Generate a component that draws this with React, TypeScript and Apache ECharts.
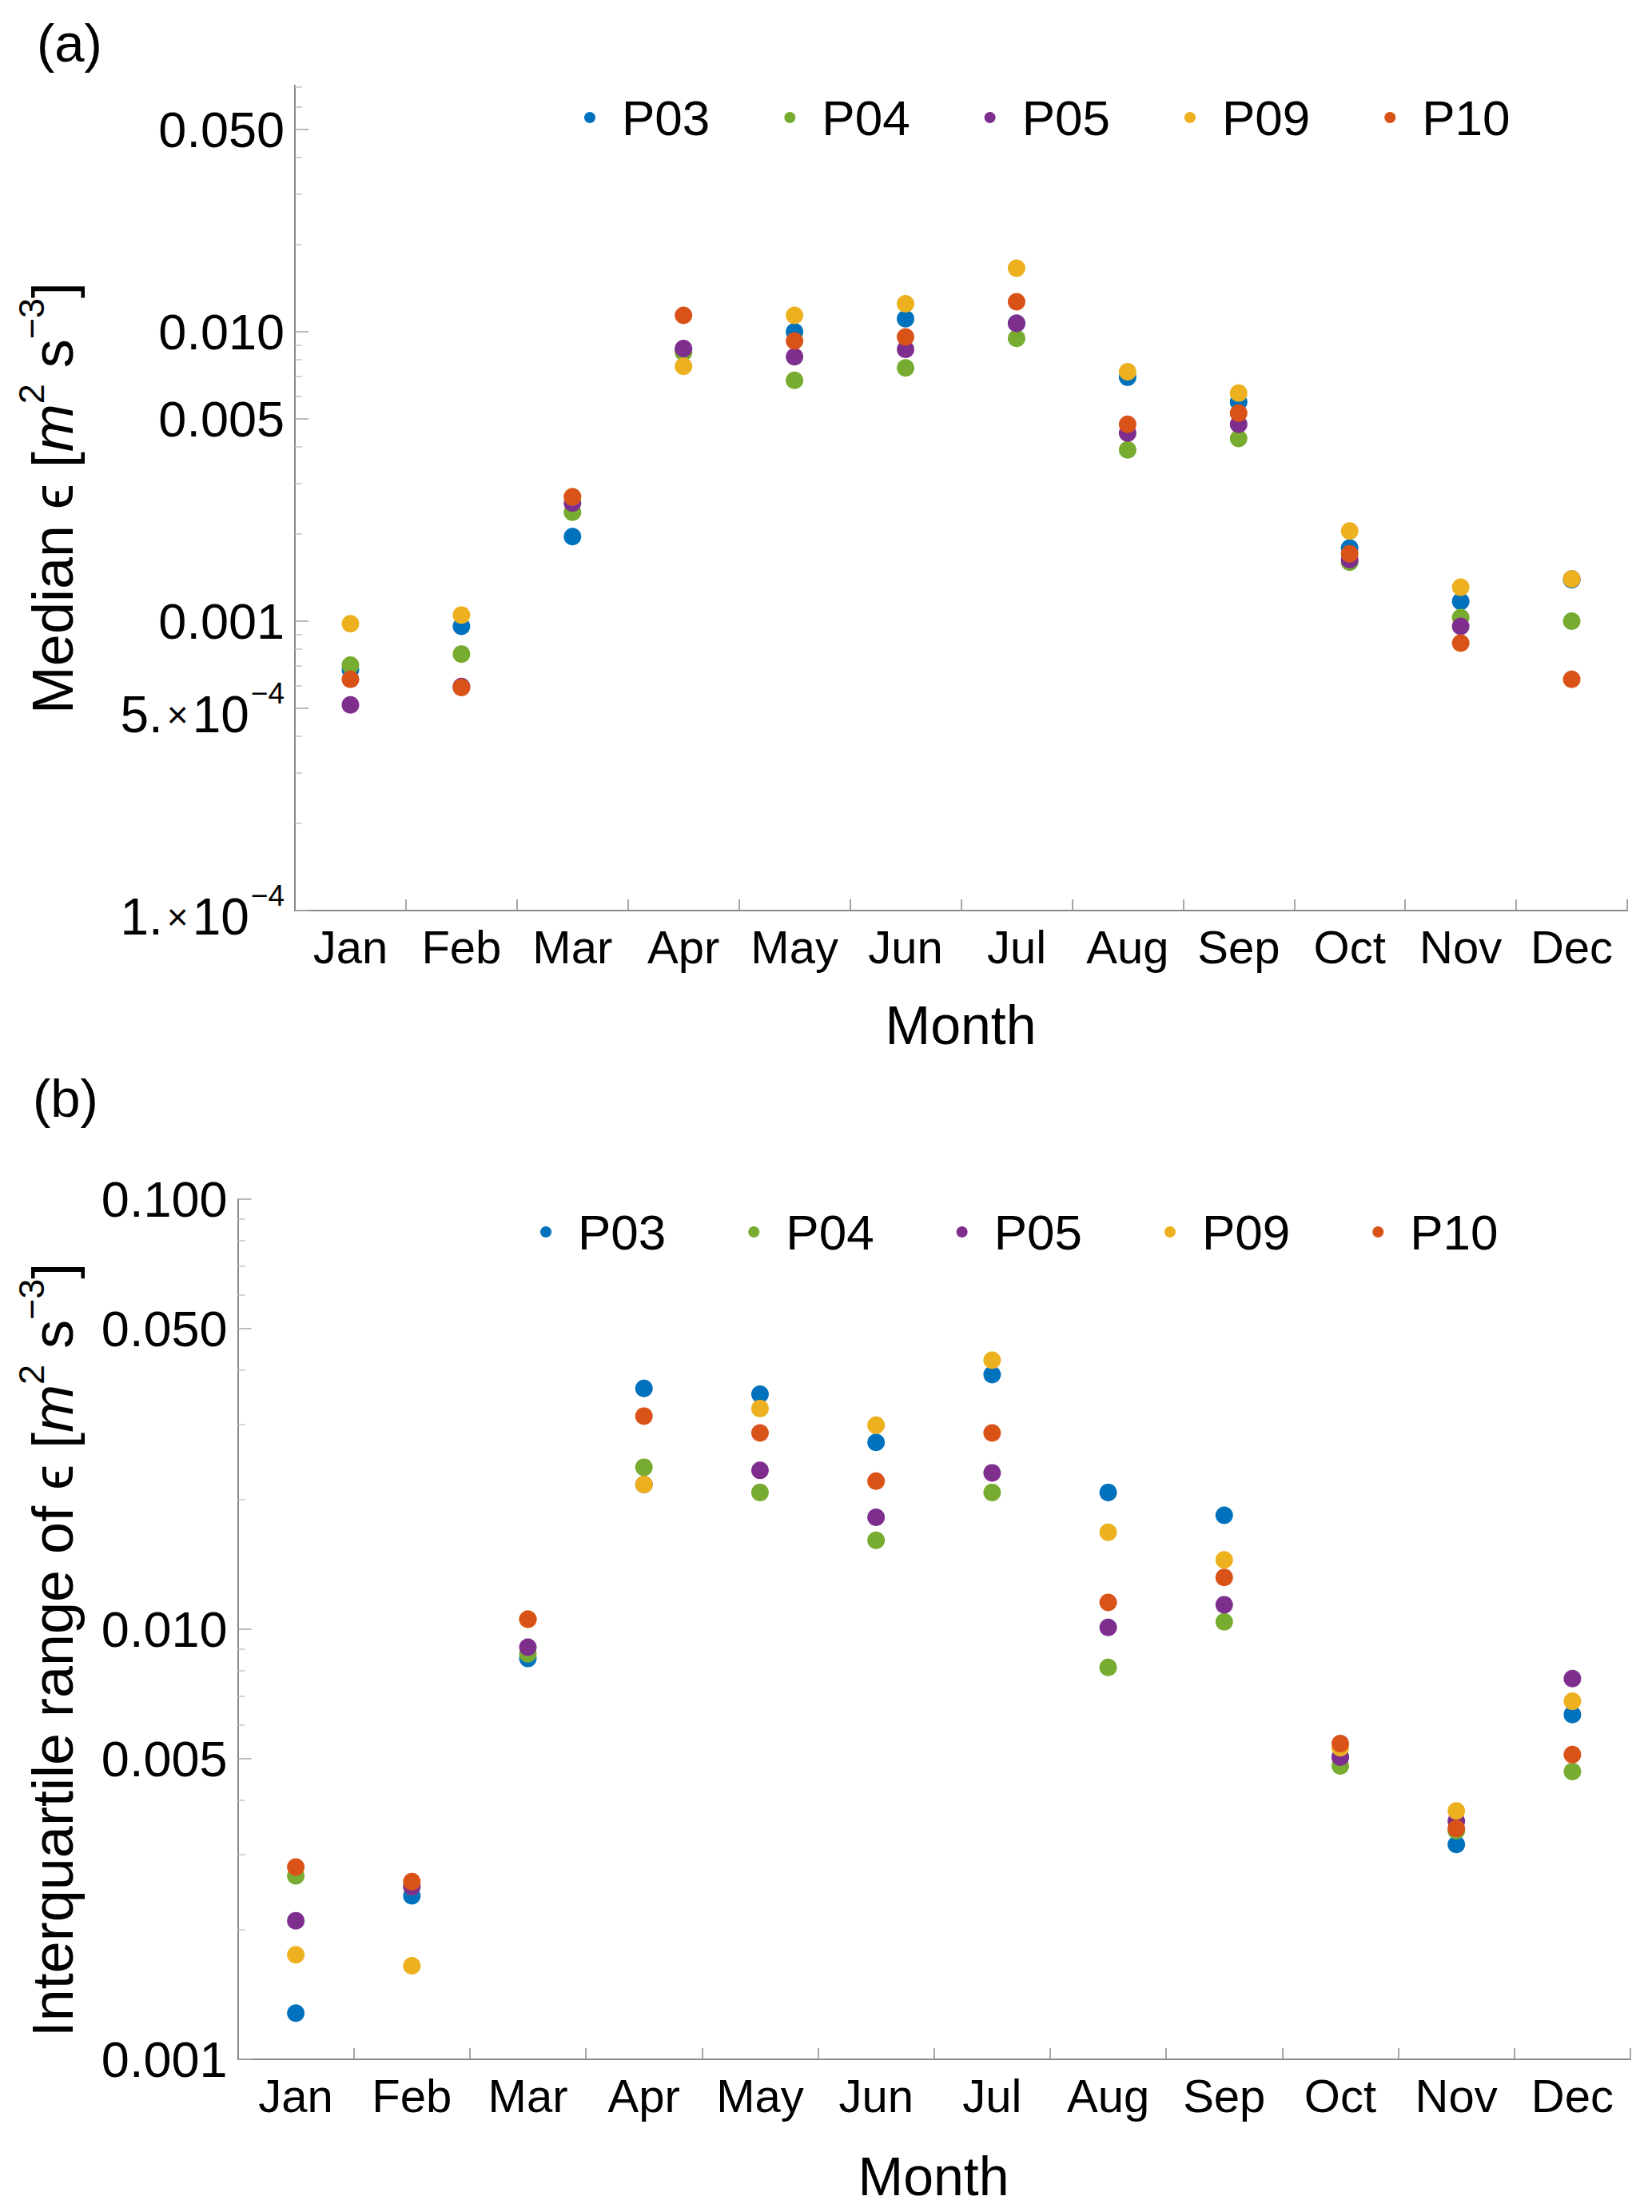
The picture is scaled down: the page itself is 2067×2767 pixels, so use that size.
import React, { useEffect, useRef } from "react";
import * as echarts from "echarts";

const FONT = "'Liberation Sans', Arial, Helvetica, sans-serif";

const months = ["Jan", "Feb", "Mar", "Apr", "May", "Jun", "Jul", "Aug", "Sep", "Oct", "Nov", "Dec"];
const seriesNames = ["P03", "P04", "P05", "P09", "P10"];
const seriesColors = ["#0072BD", "#77AC30", "#7E2F8E", "#EDB120", "#D95319"];

// Panel (a): median epsilon [m^2 s^-3]
const medianP03 = [6.8e-4, 9.6e-4, 1.96e-3, 8.7e-3, 1.0e-2, 1.11e-2, 1.07e-2, 6.97e-3, 5.73e-3, 1.79e-3, 1.17e-3, 1.39e-3];
const medianP04 = [7.05e-4, 7.7e-4, 2.38e-3, 8.5e-3, 6.8e-3, 7.5e-3, 9.5e-3, 3.91e-3, 4.28e-3, 1.6e-3, 1.03e-3, 1.0e-3];
const medianP05 = [5.14e-4, 5.95e-4, 2.56e-3, 8.75e-3, 8.2e-3, 8.7e-3, 1.07e-2, 4.47e-3, 4.79e-3, 1.63e-3, 9.6e-4, 1.4e-3];
const medianP09 = [9.8e-4, 1.05e-3, 2.69e-3, 7.6e-3, 1.14e-2, 1.25e-2, 1.66e-2, 7.28e-3, 6.14e-3, 2.05e-3, 1.31e-3, 1.4e-3];
const medianP10 = [6.3e-4, 5.9e-4, 2.69e-3, 1.14e-2, 9.3e-3, 9.6e-3, 1.27e-2, 4.79e-3, 5.24e-3, 1.71e-3, 8.4e-4, 6.3e-4];

// Panel (b): interquartile range of epsilon [m^2 s^-3]
const iqrP03 = [1.28e-3, 2.4e-3, 8.55e-3, 3.63e-2, 3.52e-2, 2.72e-2, 3.91e-2, 2.08e-2, 1.84e-2, 5.04e-3, 3.16e-3, 6.33e-3];
const iqrP04 = [2.67e-3, 2.52e-3, 8.77e-3, 2.38e-2, 2.08e-2, 1.61e-2, 2.08e-2, 8.15e-3, 1.04e-2, 4.81e-3, 3.4e-3, 4.67e-3];
const iqrP05 = [2.1e-3, 2.52e-3, 9.08e-3, 2.17e-2, 2.34e-2, 1.82e-2, 2.31e-2, 1.01e-2, 1.14e-2, 5.04e-3, 3.58e-3, 7.68e-3];
const iqrP09 = [1.75e-3, 1.65e-3, 1.055e-2, 2.17e-2, 3.26e-2, 2.98e-2, 4.22e-2, 1.68e-2, 1.45e-2, 5.3e-3, 3.78e-3, 6.8e-3];
const iqrP10 = [2.8e-3, 2.59e-3, 1.055e-2, 3.13e-2, 2.86e-2, 2.21e-2, 2.86e-2, 1.154e-2, 1.32e-2, 5.42e-3, 3.44e-3, 5.11e-3];

// Y-axis ranges and ticks
const yMinA = 1e-4;
const yMaxA = 0.071;
const majorTicksA = [1e-4, 5e-4, 0.001, 0.005, 0.01, 0.05];
const majorLabelsA = ["1.×10^-4", "5.×10^-4", "0.001", "0.005", "0.010", "0.050"];
const minorTicksA = [2e-4, 3e-4, 4e-4, 6e-4, 7e-4, 8e-4, 9e-4, 0.002, 0.003, 0.004, 0.006, 0.007, 0.008, 0.009, 0.02, 0.03, 0.04, 0.06, 0.07];

const yMinB = 0.001;
const yMaxB = 0.1;
const majorTicksB = [0.001, 0.005, 0.01, 0.05, 0.1];
const majorLabelsB = ["0.001", "0.005", "0.010", "0.050", "0.100"];
const minorTicksB = [0.002, 0.003, 0.004, 0.006, 0.007, 0.008, 0.009, 0.02, 0.03, 0.04, 0.06, 0.07, 0.08, 0.09];

const AXIS_COLOR = "#8a8a8a";
const MAJOR_TICK_COLOR = "#a6a6a6";
const MINOR_TICK_COLOR = "#c4c4c4";

const TICK_FONT = 63;

const tickRich = {
  m: { fontSize: 64, lineHeight: 64, fontFamily: FONT, color: "#000", padding: [16, 0, 0, 0] },
  x: { fontSize: 46, lineHeight: 64, fontFamily: FONT, color: "#000", padding: [16, 5, 0, 5] },
  s: { fontSize: 37, lineHeight: 37, fontFamily: FONT, color: "#000", padding: [0, 0, 38, 2] },
};

function makeFormatter(values: number[], labels: string[]) {
  return (v: number) => {
    let best = -1;
    let bd = 1e9;
    values.forEach((t, i) => {
      const d = Math.abs(Math.log10(t) - v);
      if (d < bd) {
        bd = d;
        best = i;
      }
    });
    if (best < 0 || bd > 1e-6) return "";
    const s = labels[best];
    const m = s.match(/^(.*)×10\^(.*)$/);
    if (m) return `{m|${m[1]}}{x|×}{m|10}{s|${m[2].replace("-", "−")}}`;
    return s;
  };
}

function buildYAxes(gridIndex: number, min: number, max: number, majors: number[], labels: string[], minors: number[]) {
  const lmin = Math.log10(min);
  const lmax = Math.log10(max);
  return [
    {
      type: "log",
      logBase: 10,
      gridIndex,
      position: "left",
      min,
      max,
      axisLine: { show: true, onZero: false, lineStyle: { color: AXIS_COLOR, width: 2 } },
      axisTick: { show: false },
      axisLabel: { show: false },
      splitLine: { show: false },
      minorTick: { show: false },
      minorSplitLine: { show: false },
    },
    {
      type: "value",
      gridIndex,
      position: "left",
      min: lmin,
      max: lmax,
      axisLine: { show: false },
      axisTick: {
        show: true,
        inside: true,
        length: 17,
        customValues: majors.map((v) => Math.log10(v)),
        lineStyle: { color: MAJOR_TICK_COLOR, width: 1.5 },
      },
      axisLabel: {
        show: true,
        customValues: majors.map((v) => Math.log10(v)),
        formatter: makeFormatter(majors, labels),
        margin: 13,
        fontSize: TICK_FONT,
        fontFamily: FONT,
        color: "#000",
        rich: tickRich,
      },
      splitLine: { show: false },
    },
    {
      type: "value",
      gridIndex,
      position: "left",
      min: lmin,
      max: lmax,
      axisLine: { show: false },
      axisTick: {
        show: true,
        inside: true,
        length: 9,
        customValues: minors.map((v) => Math.log10(v)),
        lineStyle: { color: MINOR_TICK_COLOR, width: 1.5 },
      },
      axisLabel: { show: false },
      splitLine: { show: false },
    },
  ];
}

function buildXAxis(gridIndex: number) {
  return {
    type: "category",
    gridIndex,
    data: months,
    boundaryGap: true,
    axisLine: { show: true, onZero: false, lineStyle: { color: AXIS_COLOR, width: 2 } },
    axisTick: { show: true, inside: true, length: 14, alignWithLabel: false, lineStyle: { color: AXIS_COLOR, width: 1.5 } },
    axisLabel: { interval: 0, fontSize: 58, fontFamily: FONT, color: "#000", margin: 16 },
    splitLine: { show: false },
  };
}

function titleRich(size: number) {
  return {
    t: { fontSize: size, lineHeight: size, fontFamily: FONT, fill: "#000" },
    i: { fontSize: size, lineHeight: size, fontFamily: FONT, fontStyle: "italic", fill: "#000" },
    s: { fontSize: 45, lineHeight: 45, fontFamily: FONT, fill: "#000", padding: [0, 0, 54, 0] },
  };
}

function textEl(text: string, x: number, y: number, size: number, align: string, rotation = 0, rich?: any) {
  return {
    type: "text",
    x,
    y,
    rotation,
    silent: true,
    style: {
      text,
      fontSize: size,
      fontFamily: FONT,
      fill: "#000",
      align,
      textAlign: align,
      verticalAlign: "middle",
      textVerticalAlign: "middle",
      rich,
    },
  };
}

export default function App() {
  const ref = useRef<HTMLDivElement>(null);

  useEffect(() => {
    if (!ref.current) return;
    const chart = echarts.init(ref.current, undefined, { renderer: "svg" });

    const medians = [medianP03, medianP04, medianP05, medianP09, medianP10];
    const iqrs = [iqrP03, iqrP04, iqrP05, iqrP09, iqrP10];

    const series: any[] = [];
    seriesNames.forEach((name, i) => {
      series.push({
        type: "scatter",
        name,
        xAxisIndex: 0,
        yAxisIndex: 0,
        data: medians[i],
        symbol: "circle",
        symbolSize: 22,
        itemStyle: { color: seriesColors[i], opacity: 1 },
        emphasis: { disabled: true },
      });
    });
    seriesNames.forEach((name, i) => {
      series.push({
        type: "scatter",
        name,
        xAxisIndex: 1,
        yAxisIndex: 3,
        data: iqrs[i],
        symbol: "circle",
        symbolSize: 22,
        itemStyle: { color: seriesColors[i], opacity: 1 },
        emphasis: { disabled: true },
      });
    });

    const legendCommon = {
      orient: "horizontal",
      icon: "circle",
      itemWidth: 14,
      itemHeight: 14,
      selectedMode: false,
      data: seriesNames,
      textStyle: { fontSize: 62, lineHeight: 62, fontFamily: FONT, color: "#000", padding: [0, 0, 0, 28] },
    };

    const titleTextA = "{t|Median ϵ [}{i|m}{s|2}{t| s}{s|−3}{t|]}";
    const titleTextB = "{t|Interquartile range of ϵ [}{i|m}{s|2}{t| s}{s|−3}{t|]}";

    chart.setOption({
      animation: false,
      backgroundColor: "#ffffff",
      grid: [
        { left: 369, top: 107, width: 1667, height: 1032, containLabel: false },
        { left: 297.5, top: 1500, width: 1742.5, height: 1076, containLabel: false },
      ],
      xAxis: [buildXAxis(0), buildXAxis(1)],
      yAxis: [
        ...buildYAxes(0, yMinA, yMaxA, majorTicksA, majorLabelsA, minorTicksA),
        ...buildYAxes(1, yMinB, yMaxB, majorTicksB, majorLabelsB, minorTicksB),
      ],
      legend: [
        { ...legendCommon, left: 726, top: 111, itemGap: 93 },
        { ...legendCommon, left: 671, top: 1505, itemGap: 103 },
      ],
      series,
      graphic: [
        textEl("(a)", 46, 53, 67, "left"),
        textEl("(b)", 41, 1373, 67, "left"),
        textEl("Month", 1202, 1282, 68, "center"),
        textEl("Month", 1168, 2722, 68, "center"),
        textEl(titleTextA, 66, 623, 72, "center", Math.PI / 2, titleRich(72)),
        textEl(titleTextB, 66, 2064, 72, "center", Math.PI / 2, titleRich(72)),
      ],
    });

    return () => {
      chart.dispose();
    };
  }, []);

  return (
    <div
      ref={ref}
      style={{ position: "absolute", left: 0, top: 0, width: 2067, height: 2767, background: "#fff" }}
    />
  );
}
